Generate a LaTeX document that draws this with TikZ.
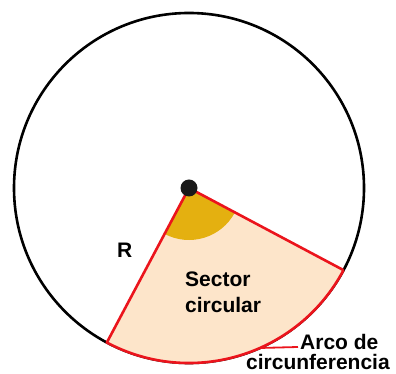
\documentclass[tikz,border=0pt]{standalone}
\usepackage{fontspec}
\setmainfont{Liberation Sans}
\usetikzlibrary{calc}
\definecolor{peach}{RGB}{253,229,202}
\definecolor{gold}{RGB}{228,176,16}
\definecolor{rline}{RGB}{235,20,28}
\begin{document}
\begin{tikzpicture}[x=1pt,y=1pt,
  lbl/.style={anchor=base west,inner sep=0pt,font=\fontsize{21}{24}\selectfont\bfseries}]
\useasboundingbox (0,0) rectangle (396,374);
\coordinate (O) at (189,186);
\coordinate (A) at ($(O)+(242:175)$);
\coordinate (B) at ($(O)+(332:175)$);
\coordinate (L) at ($(O)+(293.9:175)$);
% full circle
\draw[black,line width=2.6pt] (O) circle[radius=175];
% sector fill
\fill[peach] (O) -- (A) arc[start angle=242,end angle=332,radius=175] -- cycle;
% angle mark
\fill[gold] (O) -- ($(O)+(242:52)$) arc[start angle=242,end angle=332,radius=52] -- cycle;
% sector boundary
\draw[rline,line width=2.6pt,line join=round] (B) -- (O) -- (A) arc[start angle=242,end angle=332,radius=175];
% centre dot
\fill[black!90] (O) circle[radius=8.5];
% labels
\node[lbl] (r) at (117,116) {R};
\node[lbl] (s1) at (185,87) {Sector};
\node[lbl] (s2) at (185,61) {circular};
\node[lbl] (arco) at (300,24.5) {Arco de};
\node[lbl] (circ) at (246,4.8) {circunferencia};
\coordinate (E) at (298,27);
\draw[rline,line width=1.8pt] (L) -- (E);
\end{tikzpicture}
\end{document}
